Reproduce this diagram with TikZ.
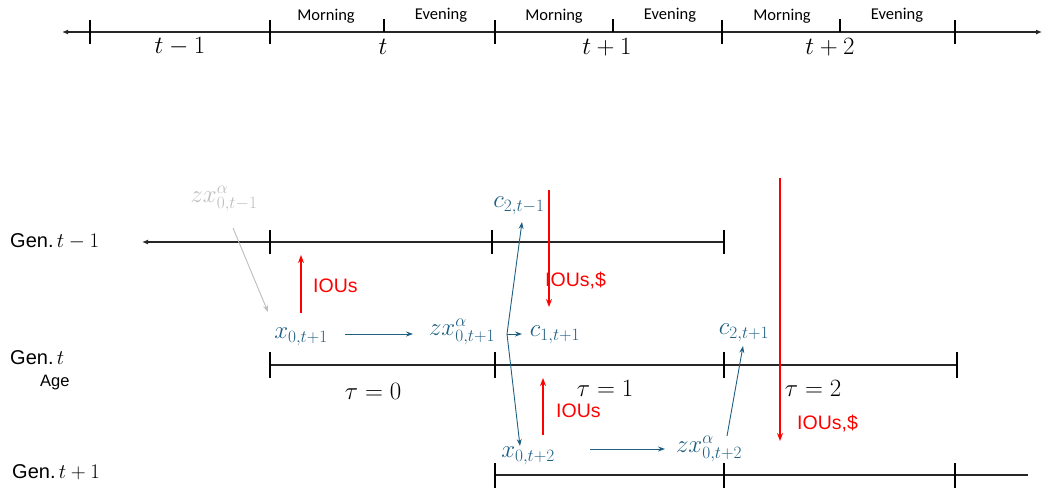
\documentclass[tikz,border=0pt]{standalone}
\usepackage{fontspec}
\setsansfont{Carlito}
\newfontfamily\gfont{Liberation Sans}
\usetikzlibrary{arrows.meta}
\definecolor{myblue}{HTML}{1F5F82}
\definecolor{mygray}{HTML}{BDBDBD}
\begin{document}
\begin{tikzpicture}[x=1pt,y=-1pt,
  tl/.style={line width=1.8pt, draw=black!85},
  tick/.style={line width=1.3pt, draw=black},
  bluearr/.style={draw=myblue, line width=0.9pt, -{Stealth[length=7pt,width=5pt]}},
  grayarr/.style={draw=mygray, line width=0.9pt, -{Stealth[length=7pt,width=5pt]}},
  redarr/.style={draw=red, line width=2pt, -{Stealth[length=8pt,width=6pt]}},
  sm/.style={font=\sffamily\fontsize{16.5}{18}\selectfont, inner sep=0pt},
  per/.style={font=\fontsize{23}{26}\selectfont, inner sep=0pt},
  gen/.style={font=\gfont\fontsize{20}{24}\selectfont, inner sep=0pt},
  bl/.style={text=myblue, font=\fontsize{23.5}{26}\selectfont, inner sep=2pt},
  gl/.style={text=mygray, font=\fontsize{23.5}{26}\selectfont, inner sep=2pt},
  rl/.style={text=red, font=\gfont\fontsize{19.5}{22}\selectfont, inner sep=0pt}
]
\useasboundingbox (0,0) rectangle (1046,488);

% ---- top timeline ----
\draw[tl, {Latex[length=6pt,width=5pt]}-{Latex[length=6pt,width=5pt]}] (62,32) -- (1042,32);
\foreach \x in {90,270,495,722,955} \draw[tick] (\x,20) -- (\x,44);
\foreach \x in {384,613,840} \draw[tick] (\x,19) -- (\x,32);
\node[sm] (m1) at (326,16) {Morning};
\node[sm] (e1) at (441,15) {Evening};
\node[sm] (m2) at (554,16) {Morning};
\node[sm] (e2) at (670,15) {Evening};
\node[sm] (m3) at (782,16) {Morning};
\node[sm] (e3) at (897,15) {Evening};
\node[per] (p0) at (180,47) {$t-1$};
\node[per] (p1) at (383,47) {$t$};
\node[per] (p2) at (607,47) {$t+1$};
\node[per] (p3) at (830,47) {$t+2$};

% ---- generation lines ----
\draw[tl, {Latex[length=6pt,width=5pt]}-] (142,242) -- (724,242);
\foreach \x in {270,492,724} \draw[tick] (\x,230) -- (\x,254);
\draw[tl] (270,365) -- (957,365);
\foreach \x in {270,495,724,957} \draw[tick] (\x,352) -- (\x,378);
\draw[tl] (495,475) -- (1028,475);
\foreach \x in {495,724,955} \draw[tick] (\x,463) -- (\x,488);

\node[gen, anchor=west] (g1) at (10,241) {Gen.\,$t-1$};
\node[gen, anchor=west] (g2) at (10,358) {Gen.\,$t$};
\node[gen, anchor=west, font=\gfont\fontsize{16.5}{18}\selectfont] (age) at (40,383) {Age};
\node[gen, anchor=west] (g3) at (12,472) {Gen.\,$t+1$};

\node[per] (tau0) at (373,391) {$\tau=0$};
\node[per] (tau1) at (605,388) {$\tau=1$};
\node[per] (tau2) at (813,388) {$\tau=2$};

% ---- quantities ----
\node[gl] (gz)  at (224,199) {$zx^{\alpha}_{0,t-1}$};
\node[bl] (x01) at (301,337) {$x_{0,t+1}$};
\node[bl] (zx01) at (462,332) {$zx^{\alpha}_{0,t+1}$};
\node[bl] (c11) at (555,335) {$c_{1,t+1}$};
\node[bl] (c2m) at (519,206) {$c_{2,t-1}$};
\node[bl] (c21) at (744,333) {$c_{2,t+1}$};
\node[bl] (x02) at (528,456) {$x_{0,t+2}$};
\node[bl] (zx02) at (709,449) {$zx^{\alpha}_{0,t+2}$};

\coordinate (ga) at (233,228);
\coordinate (gb) at (268,312);
\coordinate (br) at (507,334);
\coordinate (bu) at (522,222);
\coordinate (bd) at (520,446);
\coordinate (bc) at (522,334);
\coordinate (xa) at (345,334);
\coordinate (xb) at (413,334);
\coordinate (ya) at (590,449);
\coordinate (yb) at (665,449);
\coordinate (za) at (727,436);
\coordinate (zb) at (743,346);

\draw[grayarr] (ga) -- (gb);
\draw[bluearr] (xa) -- (xb);
\draw[bluearr] (br) -- (bu);
\draw[bluearr] (br) -- (bd);
\draw[bluearr] (br) -- (bc);
\draw[bluearr] (ya) -- (yb);
\draw[bluearr] (za) -- (zb);

% ---- IOUs flows ----
\coordinate (r1a) at (301,313); \coordinate (r1b) at (301,255);
\coordinate (r2a) at (549,190); \coordinate (r2b) at (549,307);
\coordinate (r3a) at (543,435); \coordinate (r3b) at (543,378);
\coordinate (r4a) at (780,178); \coordinate (r4b) at (780,441);
\draw[redarr] (r1a) -- (r1b);
\draw[redarr] (r2a) -- (r2b);
\draw[redarr] (r3a) -- (r3b);
\draw[redarr] (r4a) -- (r4b);
\node[rl, anchor=west] (i1) at (313,286) {IOUs};
\node[rl, anchor=west] (i2) at (545,281) {IOUs,\$};
\node[rl, anchor=west] (i3) at (556,411) {IOUs};
\node[rl, anchor=west] (i4) at (797,424) {IOUs,\$};
\end{tikzpicture}
\end{document}
